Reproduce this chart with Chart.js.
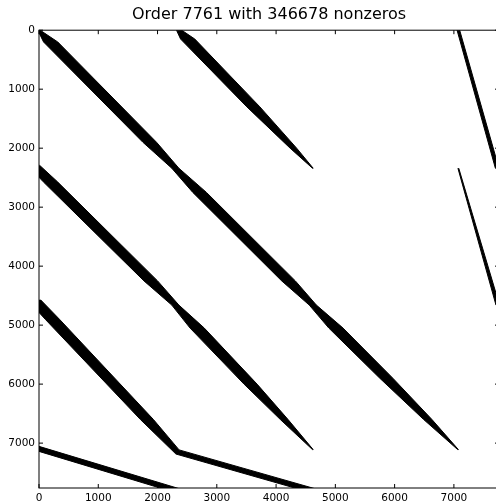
<!DOCTYPE html>
<html>
<head>
<meta charset="utf-8">
<script src="https://cdn.jsdelivr.net/npm/chart.js"></script>
<style>
  html, body { margin: 0; padding: 0; background: #fff; overflow: hidden; }
  #wrap { width: 520px; height: 502px; }
</style>
</head>
<body>
<div id="wrap"><canvas id="spy" width="520" height="502"></canvas></div>
<script>
const order = 7761
const nonzeros = 346678
const xTicks = [0, 1000, 2000, 3000, 4000, 5000, 6000, 7000]
const yTicks = [0, 1000, 2000, 3000, 4000, 5000, 6000, 7000]

// outlines of the nonzero bands, as [column, row]
const bandMain = [
  [20, 0], [317, 200], [1983, 1900], [2360, 2340], [2825, 2750], [4325, 4250],
  [4680, 4660], [5130, 5050], [5970, 5900], [6630, 6600], [7076, 7110],
  [7064, 7110], [6490, 6600], [5750, 5900], [4890, 5050], [4560, 4660],
  [4095, 4250], [2595, 2750], [2240, 2340], [1753, 1900], [77, 200], [-20, 0]
]
const bandUpper = [
  [2385, -20], [2408, 0], [2629, 150], [3727, 1300], [4347, 2000], [4626, 2340],
  [4614, 2340], [4237, 2000], [3507, 1300], [2389, 150], [2320, 0], [2305, -20]
]
const bandMid = [
  [10, 2290], [312, 2570], [2001, 4250], [2360, 4660], [2789, 5050], [3679, 6000],
  [4202, 6600], [4626, 7110],
  [4614, 7110], [4072, 6600], [3459, 6000], [2549, 5050], [2240, 4660],
  [1771, 4250], [72, 2570], [-190, 2290]
]
const bandLow = [
  [26, 4570], [345, 4900], [1931, 6600], [2364, 7115], [4800, 7814],
  [4800, 7900], [2310, 7185], [1711, 6600], [105, 4900], [-194, 4570]
]
const bandBottom = [
  [-100, 7025], [2500, 7813], [2500, 7900], [-100, 7110]
]
const bandRight1 = [
  [7092, -20], [7760, 2340], [7700, 2340], [7048, -20]
]
const bandRight2 = [
  [7082, 2340], [7770, 4660], [7710, 4660], [7068, 2340]
]

const bands = [bandMain, bandUpper, bandMid, bandLow, bandBottom, bandRight1, bandRight2]

const tickFont = { family: 'DejaVu Sans', size: 10.5 }

// matplotlib-style box with inward ticks on all four sides
const frame = {
  id: 'frame',
  afterDraw(chart) {
    const { ctx, chartArea: a, scales: { x, y } } = chart
    const len = 4
    ctx.save()
    ctx.strokeStyle = '#000'
    ctx.lineWidth = 1
    ctx.strokeRect(a.left, a.top, a.right - a.left, a.bottom - a.top)
    ctx.beginPath()
    x.ticks.forEach(t => {
      const px = x.getPixelForValue(t.value)
      ctx.moveTo(px, a.bottom); ctx.lineTo(px, a.bottom - len)
      ctx.moveTo(px, a.top); ctx.lineTo(px, a.top + len)
    })
    y.ticks.forEach(t => {
      const py = y.getPixelForValue(t.value)
      ctx.moveTo(a.left, py); ctx.lineTo(a.left + len, py)
      ctx.moveTo(a.right, py); ctx.lineTo(a.right - len, py)
    })
    ctx.stroke()
    ctx.restore()
  }
}

new Chart(document.getElementById('spy'), {
  type: 'line',
  data: {
    datasets: bands.map(b => ({
      data: b.map(([c, r]) => ({ x: c, y: r })),
      fill: 'shape',
      backgroundColor: '#000',
      borderColor: '#000',
      borderWidth: 1,
      pointRadius: 0,
      tension: 0
    }))
  },
  options: {
    responsive: false,
    animation: false,
    layout: { padding: { left: 0, right: 21, top: 0, bottom: 0 } },
    plugins: {
      legend: { display: false },
      tooltip: { enabled: false },
      title: {
        display: true,
        text: `Order ${order} with ${nonzeros} nonzeros`,
        fullSize: false,
        color: '#000',
        font: { family: 'DejaVu Sans', size: 16, weight: 'normal' },
        padding: { top: 5, bottom: 6 }
      }
    },
    scales: {
      x: {
        type: 'linear',
        min: 0,
        max: order,
        afterBuildTicks: s => { s.ticks = xTicks.map(v => ({ value: v })) },
        afterFit: s => { s.height = 14 },
        grid: { display: false, drawTicks: false },
        border: { display: false },
        ticks: { padding: 4, color: '#000', font: tickFont, maxRotation: 0, autoSkip: false, callback: v => String(v) }
      },
      y: {
        type: 'linear',
        reverse: true,
        min: 0,
        max: order,
        afterBuildTicks: s => { s.ticks = yTicks.map(v => ({ value: v })) },
        afterFit: s => { s.width = 39 },
        grid: { display: false, drawTicks: false },
        border: { display: false },
        ticks: { padding: 4, color: '#000', font: tickFont, autoSkip: false, callback: v => String(v) }
      }
    }
  },
  plugins: [frame]
})
</script>
</body>
</html>
